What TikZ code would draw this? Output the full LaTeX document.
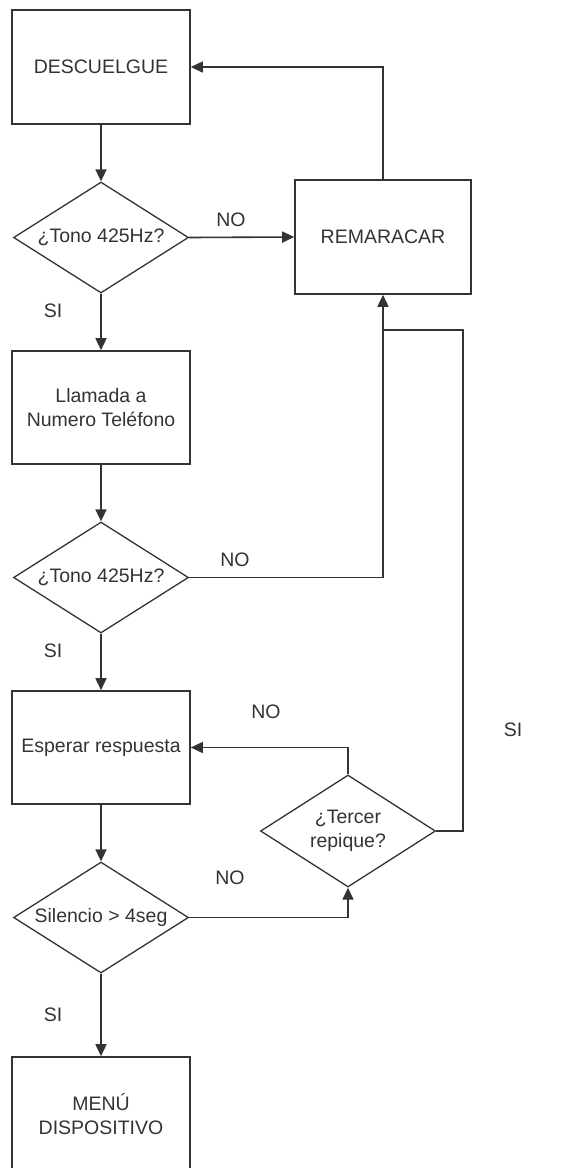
\documentclass[tikz,border=0pt]{standalone}
\usepackage{fontspec}
\setmainfont{Liberation Sans}
\usetikzlibrary{shapes.geometric,arrows.meta}
\definecolor{ink}{HTML}{333333}
\begin{document}
\begin{tikzpicture}[x=1pt,y=-1pt,
  every node/.style={text=ink,font=\fontsize{19.5}{24.5}\selectfont},
  procbox/.style={draw=ink,line width=1.6pt,rectangle,minimum width=178pt,minimum height=114pt,inner sep=0pt,align=center},
  decision/.style={draw=ink,line width=1.3pt,diamond,aspect=1.58,minimum width=175pt,minimum height=111pt,inner sep=0pt,align=center},
  flow/.style={draw=ink,line width=1.6pt,-{Triangle[length=12pt,width=11pt]}},
  plain/.style={draw=ink,line width=1.6pt},
  tag/.style={inner sep=0pt}]
\useasboundingbox (0,0) rectangle (561,1168);
\clip (0,0) rectangle (561,1168);

% process boxes and decisions
\node[procbox] (desc) at (101,67) {DESCUELGUE};
\node[decision] (d1) at (101,237.5) {¿Tono 425Hz?};
\node[procbox,minimum width=176pt] (remar) at (383,237) {REMARACAR};
\node[procbox,minimum height=113pt] (llam) at (101,407.5) {Llamada a\\Numero Teléfono};
\node[decision] (d2) at (101,577.5) {¿Tono 425Hz?};
\node[procbox,minimum height=113pt] (esp) at (101,747.5) {Esperar respuesta};
\node[decision] (d3) at (101,917.5) {Silencio > 4seg};
\node[decision,minimum height=112pt] (ter) at (348,831) {¿Tercer\\repique?};
\node[procbox] (menu) at (101,1114) {MENÚ\\DISPOSITIVO};

% helper points for the return path from the third ring
\coordinate (rt) at (463,330);
\coordinate (j1) at (remar.south |- rt);

% connectors
\draw[flow] (desc.south) -- (d1.north);
\draw[flow] (d1.east) -- (remar.west);
\draw[flow] (remar.north) |- (desc.east);
\draw[flow] (d1.south) -- (llam.north);
\draw[flow] (llam.south) -- (d2.north);
\draw[flow] (d2.east) -| (remar.south);
\draw[plain] (ter.east) -| (rt) -- (j1);
\draw[flow] (d2.south) -- (esp.north);
\draw[flow] (esp.south) -- (d3.north);
\draw[flow] (d3.east) -| (ter.south);
\draw[flow] (ter.north) |- (esp.east);
\draw[flow] (d3.south) -- (menu.north);

% branch labels
\node[tag] (no1) at (231,220) {NO};
\node[tag] (si1) at (53,311) {SI};
\node[tag] (no2) at (235,560) {NO};
\node[tag] (si2) at (53,651) {SI};
\node[tag] (no3) at (266,712) {NO};
\node[tag] (si3) at (513,730) {SI};
\node[tag] (no4) at (230,878) {NO};
\node[tag] (si4) at (53,1015) {SI};
\end{tikzpicture}
\end{document}
